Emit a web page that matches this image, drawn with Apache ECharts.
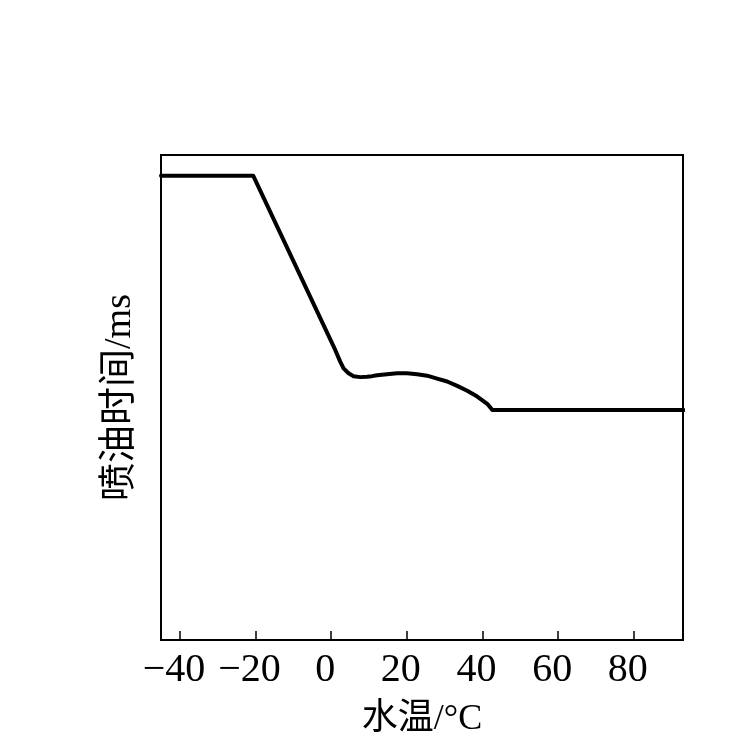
<!DOCTYPE html>
<html>
<head>
<meta charset="utf-8">
<script src="https://cdn.jsdelivr.net/npm/echarts@6/dist/echarts.min.js"></script>
<style>html,body{margin:0;padding:0;background:#fff;}#c{width:744px;height:738px;}</style>
</head>
<body>
<div id="c"></div>
<script>
// Water temperature (°C) and injection time (arbitrary units, 0-100 of plot height)
const waterTemp = [-45, -20.6, 1.06, 2.38, 3.26, 4.58, 5.91, 7.68, 9.46, 10.78, 12.1, 14.75, 17.4, 20.05, 22.7, 25.35, 28.0, 30.65, 33.3, 35.95, 38.6, 41.25, 42.6, 93.2];
const injectTime = [95.7, 95.7, 59.8, 57.4, 56.0, 55.0, 54.4, 54.2, 54.3, 54.4, 54.6, 54.8, 55.0, 55.0, 54.8, 54.5, 53.9, 53.3, 52.4, 51.4, 50.2, 48.7, 47.4, 47.4];
const xTicks = [-40, -20, 0, 20, 40, 60, 80];
const xName = '水温/°C';
const yName = '喷油时间/ms';

const font = '"Liberation Serif", "Noto Sans CJK SC", serif';
const chart = echarts.init(document.getElementById('c'), null, {renderer: 'canvas'});
chart.setOption({
  animation: false,
  backgroundColor: '#fff',
  grid: {left: 161, right: 61, top: 155, bottom: 98, outerBoundsMode: 'none', containLabel: false,
    show: true, borderColor: '#000', borderWidth: 2, backgroundColor: 'transparent'},
  xAxis: {
    type: 'value', min: -45, max: 93,
    name: xName, nameLocation: 'middle', nameGap: 62,
    nameTextStyle: {fontFamily: font, fontSize: 36, color: '#000'},
    axisLine: {show: true, onZero: false, lineStyle: {color: '#000', width: 2}},
    axisTick: {show: true, inside: true, length: 9, lineStyle: {color: '#000', width: 1.5}, customValues: xTicks},
    axisLabel: {show: true, customValues: xTicks, fontFamily: font, fontSize: 40, color: '#000', margin: 10,
      padding: [0, 12, 0, 0],
      formatter: v => String(v).replace('-', '\u2212')},
    splitLine: {show: false}
  },
  yAxis: {
    type: 'value', min: 0, max: 100,
    name: yName, nameLocation: 'middle', nameGap: 22,
    nameTextStyle: {fontFamily: font, fontSize: 38, color: '#000'},
    axisLine: {show: true, onZero: false, lineStyle: {color: '#000', width: 2}},
    axisTick: {show: false}, axisLabel: {show: false}, splitLine: {show: false}
  },
  series: [{
    type: 'line', symbol: 'none', smooth: false,
    data: waterTemp.map((x, i) => [x, injectTime[i]]),
    lineStyle: {color: '#000', width: 4, join: 'round', cap: 'round'}
  }]
});
</script>
</body>
</html>
